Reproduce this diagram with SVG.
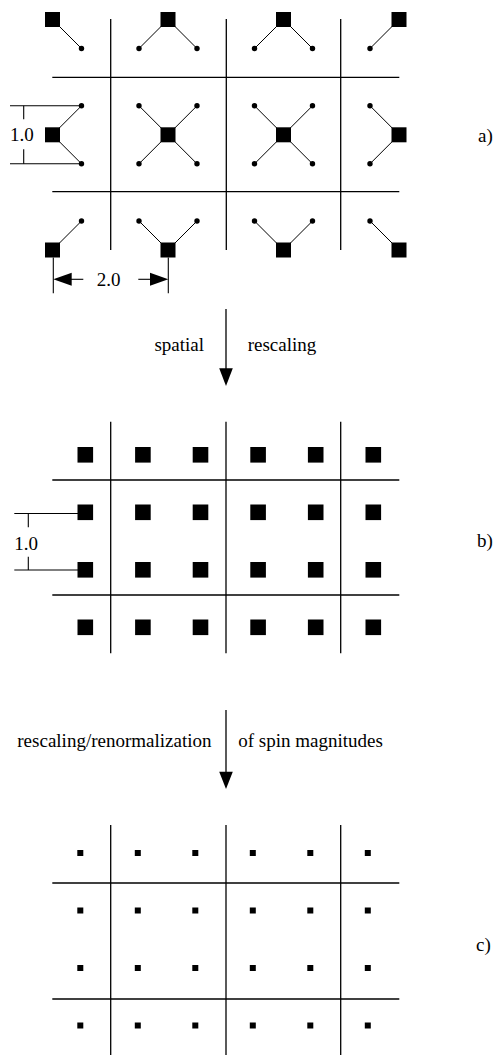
<svg xmlns="http://www.w3.org/2000/svg" xmlns:xlink="http://www.w3.org/1999/xlink" width="496" height="1055" viewBox="0 0 496 1055">
<style>
.grid{stroke:#000;stroke-width:1.3;fill:none}
.con{stroke:#000;stroke-width:1;fill:none}
.dim{stroke:#000;stroke-width:1.1;fill:none}
.t{font-family:'Liberation Serif','Times New Roman',serif;font-size:19px;fill:#000}
.sq{fill:#000}
.dot{fill:#000}
</style>
<defs>
<rect id="bigA" x="-7.5" y="-7.5" width="15" height="15" class="sq"/>
<rect id="bigB" x="-7.8" y="-7.8" width="15.6" height="15.6" class="sq"/>
<rect id="small" x="-3" y="-3" width="6" height="6" class="sq"/>
<circle id="d" r="2.7" class="dot"/>
</defs>
<rect width="496" height="1055" fill="#fff"/>

<!-- Panel a grid -->
<g id="grid-a" class="grid">
<line x1="110.7" y1="19" x2="110.7" y2="250"/>
<line x1="226.3" y1="19" x2="226.3" y2="250"/>
<line x1="340.7" y1="19" x2="340.7" y2="250"/>
<line x1="52.3" y1="77.3" x2="399.3" y2="77.3"/>
<line x1="52.3" y1="191.7" x2="399.3" y2="191.7"/>
</g>

<!-- connectors -->
<g id="connectors" class="con">
<line x1="52.5" y1="19.5" x2="81.5" y2="48.5"/>
<line x1="168" y1="19.5" x2="139" y2="48.5"/>
<line x1="168" y1="19.5" x2="197" y2="48.5"/>
<line x1="283.5" y1="19.5" x2="254.5" y2="48.5"/>
<line x1="283.5" y1="19.5" x2="312.5" y2="48.5"/>
<line x1="399" y1="19.5" x2="370" y2="48.5"/>
<line x1="52.5" y1="134.8" x2="81.5" y2="105.8"/>
<line x1="52.5" y1="134.8" x2="81.5" y2="163.8"/>
<line x1="168" y1="134.8" x2="139" y2="105.8"/>
<line x1="168" y1="134.8" x2="197" y2="105.8"/>
<line x1="168" y1="134.8" x2="139" y2="163.8"/>
<line x1="168" y1="134.8" x2="197" y2="163.8"/>
<line x1="283.5" y1="134.8" x2="254.5" y2="105.8"/>
<line x1="283.5" y1="134.8" x2="312.5" y2="105.8"/>
<line x1="283.5" y1="134.8" x2="254.5" y2="163.8"/>
<line x1="283.5" y1="134.8" x2="312.5" y2="163.8"/>
<line x1="399" y1="134.8" x2="370" y2="105.8"/>
<line x1="399" y1="134.8" x2="370" y2="163.8"/>
<line x1="52.5" y1="250" x2="81.5" y2="221"/>
<line x1="168" y1="250" x2="139" y2="221"/>
<line x1="168" y1="250" x2="197" y2="221"/>
<line x1="283.5" y1="250" x2="254.5" y2="221"/>
<line x1="283.5" y1="250" x2="312.5" y2="221"/>
<line x1="399" y1="250" x2="370" y2="221"/>
<!-- transformation arrows -->
<line x1="226" y1="309" x2="226" y2="370" stroke-width="1.3"/>
<polygon points="219.2,368.3 232.8,368.3 226,386" fill="#000" stroke="none"/>
<line x1="226" y1="710" x2="226" y2="773" stroke-width="1.3"/>
<polygon points="219.2,771.7 232.8,771.7 226,789" fill="#000" stroke="none"/>
</g>

<!-- Panel a spins -->
<g id="spins-a">
<use xlink:href="#bigA" x="52.5" y="19.5"/>
<use xlink:href="#bigA" x="168" y="19.5"/>
<use xlink:href="#bigA" x="283.5" y="19.5"/>
<use xlink:href="#bigA" x="399" y="19.5"/>
<use xlink:href="#bigA" x="52.5" y="134.8"/>
<use xlink:href="#bigA" x="168" y="134.8"/>
<use xlink:href="#bigA" x="283.5" y="134.8"/>
<use xlink:href="#bigA" x="399" y="134.8"/>
<use xlink:href="#bigA" x="52.5" y="250"/>
<use xlink:href="#bigA" x="168" y="250"/>
<use xlink:href="#bigA" x="283.5" y="250"/>
<use xlink:href="#bigA" x="399" y="250"/>
</g>
<g id="dots-a">
<use xlink:href="#d" x="81.5" y="48.5"/>
<use xlink:href="#d" x="139" y="48.5"/>
<use xlink:href="#d" x="197" y="48.5"/>
<use xlink:href="#d" x="254.5" y="48.5"/>
<use xlink:href="#d" x="312.5" y="48.5"/>
<use xlink:href="#d" x="370" y="48.5"/>
<use xlink:href="#d" x="81.5" y="105.8"/>
<use xlink:href="#d" x="139" y="105.8"/>
<use xlink:href="#d" x="197" y="105.8"/>
<use xlink:href="#d" x="254.5" y="105.8"/>
<use xlink:href="#d" x="312.5" y="105.8"/>
<use xlink:href="#d" x="370" y="105.8"/>
<use xlink:href="#d" x="81.5" y="163.8"/>
<use xlink:href="#d" x="139" y="163.8"/>
<use xlink:href="#d" x="197" y="163.8"/>
<use xlink:href="#d" x="254.5" y="163.8"/>
<use xlink:href="#d" x="312.5" y="163.8"/>
<use xlink:href="#d" x="370" y="163.8"/>
<use xlink:href="#d" x="81.5" y="221"/>
<use xlink:href="#d" x="139" y="221"/>
<use xlink:href="#d" x="197" y="221"/>
<use xlink:href="#d" x="254.5" y="221"/>
<use xlink:href="#d" x="312.5" y="221"/>
<use xlink:href="#d" x="370" y="221"/>
</g>

<!-- Panel a dimensions -->
<g id="dim-a-10" class="dim">
<line x1="10" y1="105.8" x2="80" y2="105.8"/>
<line x1="23.7" y1="105.8" x2="23.7" y2="119.3"/>
<line x1="23.7" y1="149.3" x2="23.7" y2="163.8"/>
<line x1="10" y1="163.8" x2="80" y2="163.8"/>
</g>
<text class="t" x="10" y="141">1.0</text>
<g id="dim-a-20" class="dim">
<line x1="53.3" y1="257.5" x2="53.3" y2="293.3"/>
<line x1="168.3" y1="257.5" x2="168.3" y2="293.3"/>
<line x1="70" y1="279.3" x2="83.3" y2="279.3"/>
<polygon points="53.3,279.3 71.7,272.8 71.7,285.8" fill="#000" stroke="none"/>
<line x1="138.3" y1="279.3" x2="152" y2="279.3"/>
<polygon points="168.3,279.3 150,272.8 150,285.8" fill="#000" stroke="none"/>
</g>
<text class="t" x="96.7" y="286">2.0</text>
<text class="t" x="478" y="142">a)</text>

<!-- arrow labels -->
<text class="t" x="204" y="351" text-anchor="end">spatial</text>
<text class="t" x="247.7" y="351">rescaling</text>

<!-- Panel b -->
<g id="grid-b" class="grid">
<line x1="110.7" y1="421.7" x2="110.7" y2="653.3"/>
<line x1="226" y1="421.7" x2="226" y2="653.3"/>
<line x1="340.7" y1="421.7" x2="340.7" y2="653.3"/>
<line x1="52.3" y1="480" x2="399.3" y2="480"/>
<line x1="52.3" y1="595" x2="399.3" y2="595"/>
</g>
<g id="spins-b">
<use xlink:href="#bigB" x="85.3" y="454.8"/><use xlink:href="#bigB" x="142.9" y="454.8"/><use xlink:href="#bigB" x="200.5" y="454.8"/><use xlink:href="#bigB" x="258.1" y="454.8"/><use xlink:href="#bigB" x="315.7" y="454.8"/><use xlink:href="#bigB" x="373.3" y="454.8"/>
<use xlink:href="#bigB" x="85.3" y="512.3"/><use xlink:href="#bigB" x="142.9" y="512.3"/><use xlink:href="#bigB" x="200.5" y="512.3"/><use xlink:href="#bigB" x="258.1" y="512.3"/><use xlink:href="#bigB" x="315.7" y="512.3"/><use xlink:href="#bigB" x="373.3" y="512.3"/>
<use xlink:href="#bigB" x="85.3" y="569.8"/><use xlink:href="#bigB" x="142.9" y="569.8"/><use xlink:href="#bigB" x="200.5" y="569.8"/><use xlink:href="#bigB" x="258.1" y="569.8"/><use xlink:href="#bigB" x="315.7" y="569.8"/><use xlink:href="#bigB" x="373.3" y="569.8"/>
<use xlink:href="#bigB" x="85.3" y="627.3"/><use xlink:href="#bigB" x="142.9" y="627.3"/><use xlink:href="#bigB" x="200.5" y="627.3"/><use xlink:href="#bigB" x="258.1" y="627.3"/><use xlink:href="#bigB" x="315.7" y="627.3"/><use xlink:href="#bigB" x="373.3" y="627.3"/>
</g>
<g id="dim-b-10" class="dim">
<line x1="14.3" y1="513.5" x2="78" y2="513.5"/>
<line x1="28.3" y1="513.5" x2="28.3" y2="527.3"/>
<line x1="28.3" y1="556.7" x2="28.3" y2="570"/>
<line x1="14.3" y1="570" x2="78" y2="570"/>
</g>
<text class="t" x="14.3" y="550">1.0</text>
<text class="t" x="477" y="546.5">b)</text>

<text class="t" x="17.3" y="747">rescaling/renormalization</text>
<text class="t" x="238.3" y="747">of spin magnitudes</text>

<!-- Panel c -->
<g id="grid-c" class="grid">
<line x1="110.7" y1="825" x2="110.7" y2="1055"/>
<line x1="226" y1="825" x2="226" y2="1055"/>
<line x1="340.7" y1="825" x2="340.7" y2="1055"/>
<line x1="52.3" y1="883" x2="399.3" y2="883"/>
<line x1="52.3" y1="999" x2="399.3" y2="999"/>
</g>
<g id="spins-c">
<use xlink:href="#small" x="80.3" y="853"/><use xlink:href="#small" x="137.8" y="853"/><use xlink:href="#small" x="195.3" y="853"/><use xlink:href="#small" x="252.8" y="853"/><use xlink:href="#small" x="310.3" y="853"/><use xlink:href="#small" x="367.8" y="853"/>
<use xlink:href="#small" x="80.3" y="910.5"/><use xlink:href="#small" x="137.8" y="910.5"/><use xlink:href="#small" x="195.3" y="910.5"/><use xlink:href="#small" x="252.8" y="910.5"/><use xlink:href="#small" x="310.3" y="910.5"/><use xlink:href="#small" x="367.8" y="910.5"/>
<use xlink:href="#small" x="80.3" y="968"/><use xlink:href="#small" x="137.8" y="968"/><use xlink:href="#small" x="195.3" y="968"/><use xlink:href="#small" x="252.8" y="968"/><use xlink:href="#small" x="310.3" y="968"/><use xlink:href="#small" x="367.8" y="968"/>
<use xlink:href="#small" x="80.3" y="1025.5"/><use xlink:href="#small" x="137.8" y="1025.5"/><use xlink:href="#small" x="195.3" y="1025.5"/><use xlink:href="#small" x="252.8" y="1025.5"/><use xlink:href="#small" x="310.3" y="1025.5"/><use xlink:href="#small" x="367.8" y="1025.5"/>
</g>
<text class="t" x="476" y="951">c)</text>
</svg>
